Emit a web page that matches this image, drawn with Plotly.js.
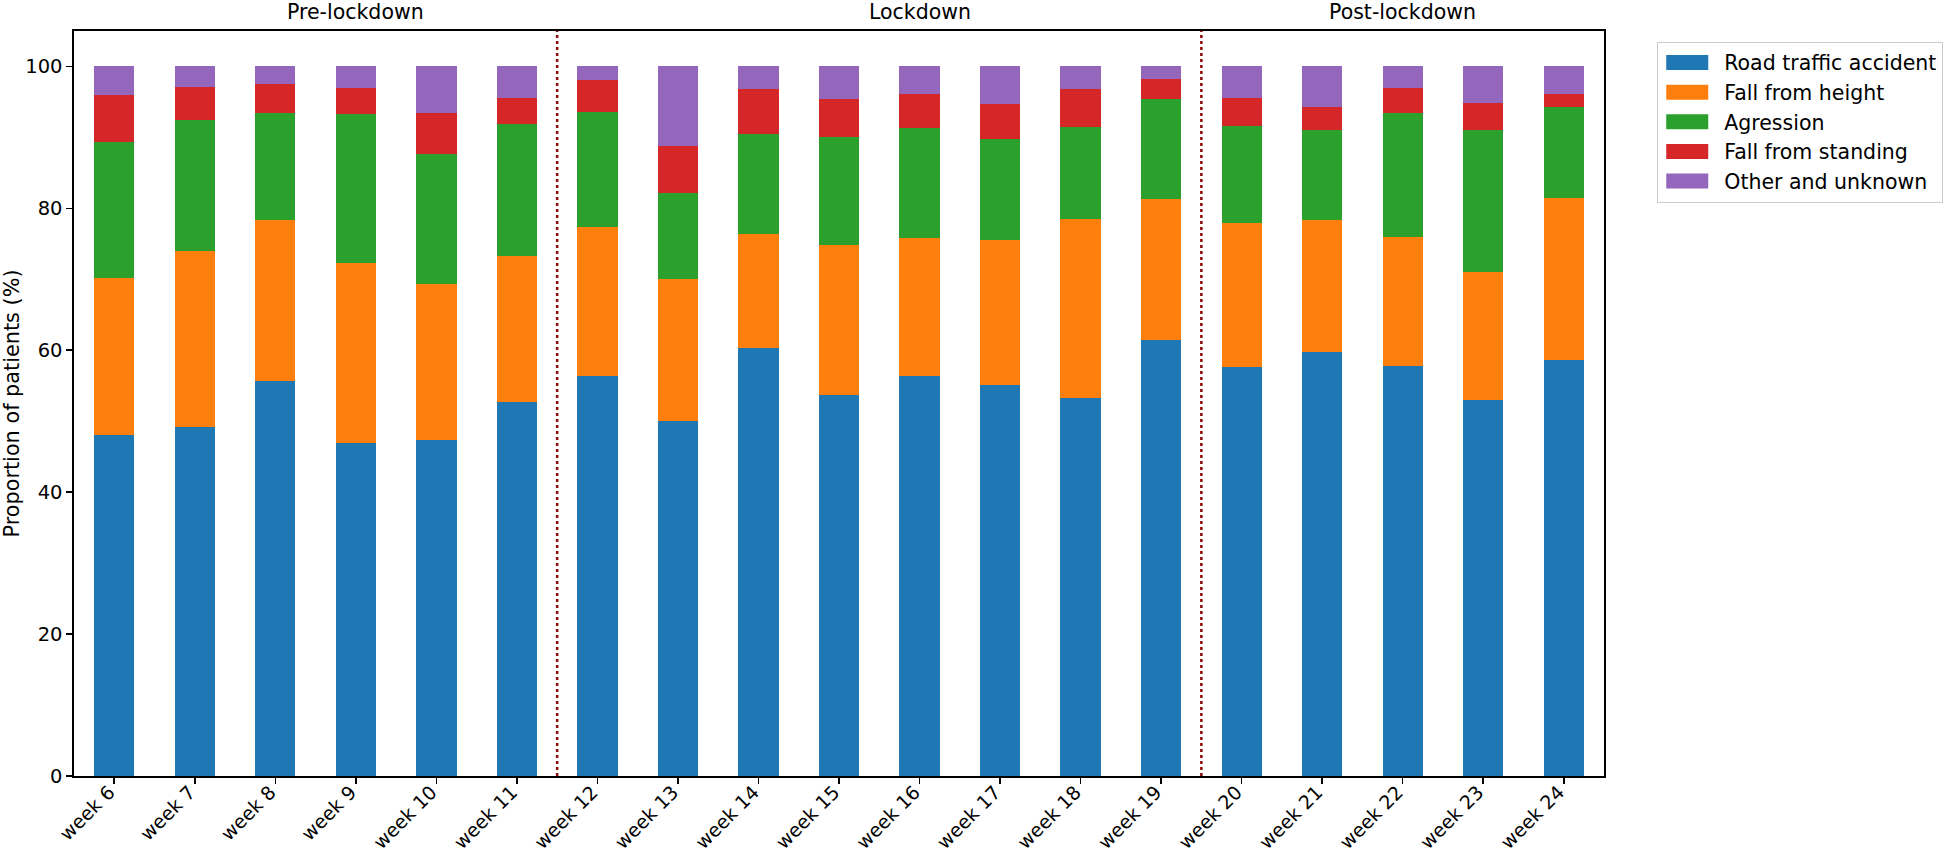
<!DOCTYPE html>
<html><head><meta charset="utf-8">
<script src="https://cdn.plot.ly/plotly-3.0.1.min.js"></script>
<style>html,body{margin:0;padding:0;background:#fff;} #chart{width:1946px;height:856px;}</style>
</head><body><div id="chart"></div>
<script>
const weeks = ['week 6','week 7','week 8','week 9','week 10','week 11','week 12','week 13','week 14','week 15','week 16','week 17','week 18','week 19','week 20','week 21','week 22','week 23','week 24'];
const roadTraffic  = [48.0,49.2,55.7,47.0,47.4,52.7,56.4,50.0,60.3,53.7,56.4,55.1,53.3,61.5,57.7,59.7,57.8,53.0,58.6];
const fallHeight   = [22.2,24.8,22.6,25.3,22.0,20.6,21.0,20.0,16.1,21.2,19.4,20.4,25.2,19.8,20.2,18.7,18.1,18.1,22.9];
const agression    = [19.1,18.4,15.1,21.0,18.2,18.6,16.2,12.2,14.1,15.2,15.6,14.3,13.0,14.1,13.7,12.7,17.5,20.0,12.8];
const fallStanding = [6.7,4.7,4.2,3.7,5.8,3.7,4.5,6.6,6.3,5.3,4.7,4.9,5.3,2.8,3.9,3.2,3.6,3.8,1.8];
const otherUnknown = [4.0,2.9,2.4,3.0,6.6,4.4,1.9,11.2,3.2,4.6,3.9,5.3,3.2,1.8,4.5,5.7,3.0,5.1,3.9];
const seriesNames  = ['Road traffic accident','Fall from height','Agression','Fall from standing','Other and unknown'];
const yTicks = [0,20,40,60,80,100];
const periodNames = ['Pre-lockdown','Lockdown','Post-lockdown'];
const periodLabelWeek = ['week 9','week 16','week 22'];
const periodLastWeek = ['week 11','week 19'];

const seriesValues = [roadTraffic, fallHeight, agression, fallStanding, otherUnknown];
const colors = ['#1f77b4','#ff7f0e','#2ca02c','#d62728','#9467bd'];
const FONT = 'DejaVu Sans, Liberation Sans, sans-serif';

const traces = seriesValues.map((vals, i) => ({
  type: 'bar', x: weeks, y: vals, name: seriesNames[i],
  marker: {color: colors[i], line: {width: 0}},
  hoverinfo: 'x+y+name'
}));

const shapes = periodLastWeek.map(w => ({
  type: 'line', xref: 'x', yref: 'paper',
  x0: weeks.indexOf(w) + 0.5, x1: weeks.indexOf(w) + 0.5, y0: 0, y1: 1,
  line: {color: '#8b0a0a', width: 2.5, dash: 'dot'}, layer: 'above'
}));

const annotations = periodNames.map((p, i) => ({
  text: p, xref: 'x', yref: 'paper',
  x: weeks.indexOf(periodLabelWeek[i]), y: 1.026,
  xanchor: 'center', yanchor: 'middle', showarrow: false,
  font: {family: FONT, size: 20.5, color: '#000'}
}));

const axisCommon = {
  showline: true, mirror: true, linecolor: '#000', linewidth: 1.6,
  ticks: 'outside', ticklen: 6, tickwidth: 1.6, tickcolor: '#000',
  showgrid: false, zeroline: false, automargin: false, fixedrange: true,
  tickfont: {family: FONT, size: 19.5, color: '#000'}
};

const layout = {
  width: 1946, height: 856,
  margin: {l: 74, r: 342, t: 31, b: 80, autoexpand: false},
  barmode: 'stack', bargap: 0.5,
  font: {family: FONT, size: 20, color: '#000'},
  paper_bgcolor: '#fff', plot_bgcolor: '#fff',
  xaxis: Object.assign({}, axisCommon, {type: 'category', range: [-0.5, 18.5], tickangle: -45,
    ticklabelstandoff: -10, ticklabelshift: -5, tickfont: {family: FONT, size: 19, color: '#000'}}),
  yaxis: Object.assign({}, axisCommon, {range: [0, 105], tickvals: yTicks, ticktext: yTicks.map(String),
    title: {text: 'Proportion of patients (%)', font: {family: FONT, size: 20.8, color: '#000'}, standoff: 8}}),
  legend: {x: 1.0348, y: 0.9857, xanchor: 'left', yanchor: 'top', bordercolor: '#cccccc', borderwidth: 1,
    bgcolor: '#fff', font: {family: FONT, size: 20.5, color: '#000'}, itemwidth: 56, traceorder: 'normal'},
  shapes: shapes, annotations: annotations, showlegend: true
};

Plotly.newPlot('chart', traces, layout, {displayModeBar: false, staticPlot: true}).then(() => {
  document.querySelectorAll('.legend .legendpoints path').forEach(p => {
    p.setAttribute('d', 'M-25,7.5h42v-15h-42Z');
  });
});
</script>
</body></html>
